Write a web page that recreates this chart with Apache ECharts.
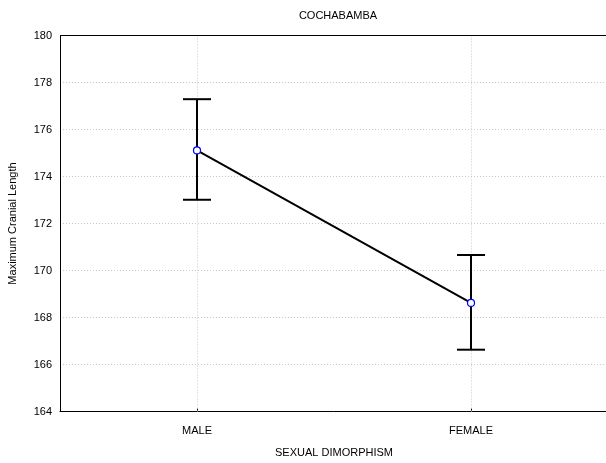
<!DOCTYPE html>
<html>
<head>
<meta charset="utf-8">
<script src="https://cdn.jsdelivr.net/npm/echarts@6/dist/echarts.min.js"></script>
<style>html,body{margin:0;padding:0;background:#fff;}#c{width:606px;height:463px;}</style>
</head>
<body>
<div id="c"></div>
<script>
var categories = ['MALE', 'FEMALE'];
var means = [175.11, 168.62];
var upper = [177.29, 170.66];
var lower = [173.01, 166.63];
var yTicks = [164, 166, 168, 170, 172, 174, 176, 178, 180];

var chart = echarts.init(document.getElementById('c'), null, {renderer: 'canvas'});
var font = 'Liberation Sans, Arial, sans-serif';
var errData = categories.map(function (c, i) { return [i, lower[i], upper[i]]; });
var gridLineStyle = {color: '#c8c8c8', type: [1, 2], width: 1};

chart.setOption({
  animation: false,
  backgroundColor: '#fff',
  title: {
    text: 'COCHABAMBA',
    left: 333, top: 5, textAlign: 'center',
    textStyle: {fontFamily: font, fontSize: 11, fontWeight: 'normal', color: '#000'}
  },
  grid: {left: 60, right: -2, top: 35.5, bottom: 51.5, containLabel: false, outerBoundsMode: 'none'},
  xAxis: {
    type: 'category',
    data: categories,
    boundaryGap: true,
    name: 'SEXUAL DIMORPHISM',
    nameLocation: 'middle',
    nameGap: 36,
    nameTextStyle: {fontFamily: font, fontSize: 11, color: '#000'},
    axisLine: {show: true, lineStyle: {color: '#000', width: 1}},
    axisTick: {show: true, inside: true, length: 3, alignWithLabel: true, lineStyle: {color: '#000'}},
    axisLabel: {fontFamily: font, fontSize: 11, color: '#000', margin: 14, interval: 0},
    splitLine: {show: false}
  },
  yAxis: {
    type: 'value',
    min: 164, max: 180, interval: 2,
    name: 'Maximum Cranial Length',
    nameLocation: 'middle',
    nameGap: 42,
    nameTextStyle: {fontFamily: font, fontSize: 11, color: '#000'},
    axisLine: {show: true, lineStyle: {color: '#000', width: 1}},
    axisTick: {show: false},
    axisLabel: {fontFamily: font, fontSize: 11, color: '#000', margin: 8,
      formatter: function (v) { return yTicks.indexOf(v) >= 0 ? String(v) : ''; }},
    splitLine: {show: true, lineStyle: gridLineStyle}
  },
  series: [
    {
      type: 'custom',
      data: errData,
      z: 2,
      renderItem: function (params, api) {
        var x = api.value(0);
        var lo = api.coord([x, api.value(1)]);
        var hi = api.coord([x, api.value(2)]);
        var hw = 14;
        var st = {stroke: '#000', lineWidth: 2};
        return {
          type: 'group',
          children: [
            {type: 'line', shape: {x1: lo[0], y1: lo[1], x2: hi[0], y2: hi[1]}, style: st},
            {type: 'line', shape: {x1: hi[0] - hw, y1: hi[1], x2: hi[0] + hw, y2: hi[1]}, style: st},
            {type: 'line', shape: {x1: lo[0] - hw, y1: lo[1], x2: lo[0] + hw, y2: lo[1]}, style: st}
          ]
        };
      }
    },
    {
      type: 'line',
      data: means,
      z: 3,
      symbol: 'circle',
      symbolSize: 7,
      lineStyle: {color: '#000', width: 2},
      itemStyle: {color: '#fff', borderColor: '#0000ff', borderWidth: 1.2},
      markLine: {
        silent: true,
        symbol: ['none', 'none'],
        label: {show: false},
        z: 1,
        lineStyle: gridLineStyle,
        data: categories.map(function (c) { return {xAxis: c}; })
      }
    }
  ],
  graphic: [{
    type: 'line', z: 10,
    shape: {x1: 60, y1: 35.5, x2: 606, y2: 35.5},
    style: {stroke: '#000', lineWidth: 1}
  }]
});
</script>
</body>
</html>
